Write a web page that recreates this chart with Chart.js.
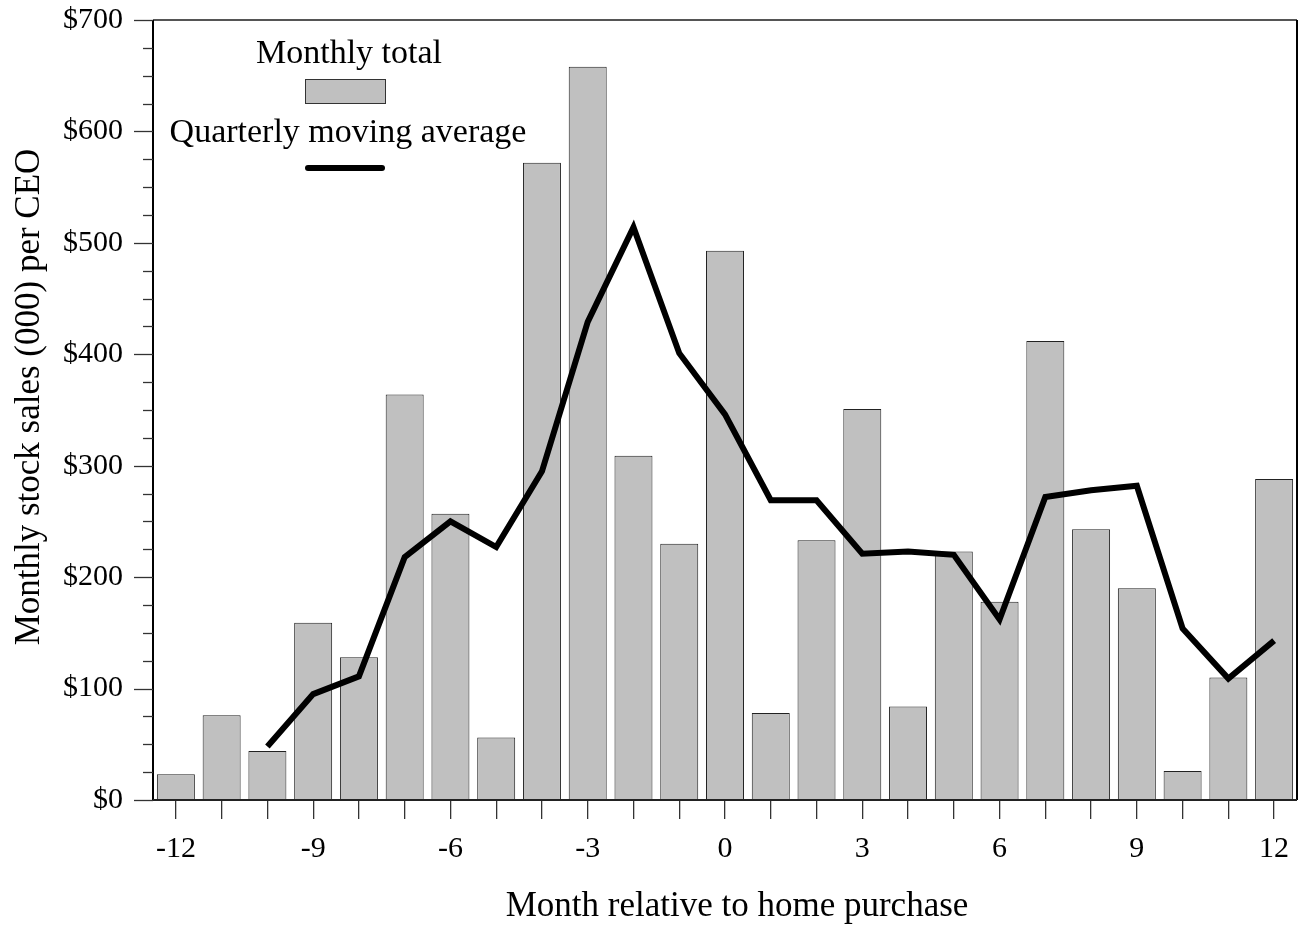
<!DOCTYPE html>
<html>
<head>
<meta charset="utf-8">
<script src="https://cdn.jsdelivr.net/npm/chart.js@4/dist/chart.umd.min.js"></script>
<style>
html,body{margin:0;padding:0;background:#fff;}
#wrap{width:1299px;height:925px;position:relative;}
</style>
</head>
<body>
<div id="wrap"><canvas id="c" width="1299" height="925"></canvas></div>
<script>
const months = [-12,-11,-10,-9,-8,-7,-6,-5,-4,-3,-2,-1,0,1,2,3,4,5,6,7,8,9,10,11,12];
const monthlyTotal = [23,76,44,159,128,364,257,56,572,658,309,230,493,78,233,351,84,223,178,412,243,190,26,110,288];
const movingAverage = [null,null,48,95,111,218,250,227,295,429,514,401,346,269,269,221,223,220,162,272,278,282,154,109,143];
const yTickValues = [0,100,200,300,400,500,600,700];
const xTickLabels = ['-12','-9','-6','-3','0','3','6','9','12'];
const legendLabels = ['Monthly total','Quarterly moving average'];
const xTitle = 'Month relative to home purchase';
const yTitle = 'Monthly stock sales (000) per CEO';

const FONT = '"Liberation Serif", "Times New Roman", serif';

const decor = {
  id: 'decor',
  afterDatasetsDraw(chart) {
    const ctx = chart.ctx, a = chart.chartArea;
    const y = chart.scales.y;
    ctx.save();
    // frame
    ctx.lineWidth = 2;
    ctx.strokeStyle = '#555';
    ctx.beginPath(); ctx.moveTo(a.left, a.top); ctx.lineTo(a.right, a.top); ctx.stroke();
    ctx.strokeStyle = '#000';
    ctx.beginPath(); ctx.moveTo(a.right, a.top); ctx.lineTo(a.right, a.bottom); ctx.stroke();
    ctx.beginPath(); ctx.moveTo(a.left, a.top); ctx.lineTo(a.left, a.bottom+1); ctx.stroke();
    ctx.strokeStyle = '#222';
    ctx.beginPath(); ctx.moveTo(a.left, a.bottom); ctx.lineTo(a.right, a.bottom); ctx.stroke();
    // y ticks (major + minor)
    ctx.lineWidth = 1.3;
    ctx.strokeStyle = '#333';
    for (let v = 0; v <= 700; v += 25) {
      const py = Math.round(y.getPixelForValue(v)) + 0.5;
      const len = (v % 100 === 0) ? 19 : 10;
      ctx.beginPath(); ctx.moveTo(a.left - len, py); ctx.lineTo(a.left, py); ctx.stroke();
    }
    // legend
    ctx.fillStyle = '#000';
    ctx.font = '34px ' + FONT;
    ctx.textAlign = 'center';
    ctx.textBaseline = 'alphabetic';
    ctx.fillText(legendLabels[0], 349, 63);
    ctx.fillText(legendLabels[1], 348, 142);
    ctx.fillStyle = '#c0c0c0';
    ctx.fillRect(305, 79, 80, 24);
    ctx.strokeStyle = '#333'; ctx.lineWidth = 1;
    ctx.strokeRect(305.5, 79.5, 80, 24);
    ctx.strokeStyle = '#000'; ctx.lineWidth = 6; ctx.lineCap = 'round';
    ctx.beginPath(); ctx.moveTo(308, 168); ctx.lineTo(382, 168); ctx.stroke();
    // axis titles
    ctx.fillStyle = '#000';
    ctx.font = '35px ' + FONT;
    ctx.textAlign = 'center'; ctx.textBaseline = 'middle';
    ctx.fillText(xTitle, 737, 907);
    ctx.translate(30, 397);
    ctx.rotate(-Math.PI/2);
    ctx.fillText(yTitle, 0, 0);
    ctx.restore();
  }
};

new Chart(document.getElementById('c'), {
  type: 'bar',
  data: {
    labels: months.map(String),
    datasets: [
      {
        type: 'line',
        label: legendLabels[1],
        data: movingAverage,
        borderColor: '#000',
        borderWidth: 6,
        pointRadius: 0,
        tension: 0,
        fill: false,
        borderJoinStyle: 'miter',
        borderCapStyle: 'butt',
        spanGaps: false,
        order: 0
      },
      {
        type: 'bar',
        label: legendLabels[0],
        data: monthlyTotal,
        backgroundColor: '#c0c0c0',
        borderColor: '#222',
        borderWidth: 1,
        categoryPercentage: 1,
        barPercentage: 0.83,
        order: 1
      }
    ]
  },
  options: {
    responsive: false,
    animation: false,
    devicePixelRatio: 1,
    layout: { padding: { top: 20, right: 2, left: 0, bottom: 0 } },
    plugins: { legend: { display: false }, tooltip: { enabled: false } },
    scales: {
      x: {
        type: 'category',
        offset: true,
        grid: { display: true, drawOnChartArea: false, drawTicks: true, tickLength: 19, offset: false, color: '#333', lineWidth: 1.3 },
        border: { display: false },
        ticks: {
          autoSkip: false, maxRotation: 0, minRotation: 0, padding: 12,
          color: '#000', font: { family: FONT, size: 30 },
          callback: function(val, idx) {
            const l = String(months[idx]);
            return xTickLabels.includes(l) ? l : '';
          }
        },
        afterFit(scale) { scale.height = 125; scale.paddingLeft = 0; scale.paddingRight = 0; }
      },
      y: {
        min: 0, max: 700,
        afterBuildTicks(scale) { scale.ticks = yTickValues.map(v => ({ value: v })); },
        grid: { display: true, drawOnChartArea: false, drawTicks: true, tickLength: 19, color: 'rgba(0,0,0,0)' },
        border: { display: false },
        ticks: {
          padding: 11, color: '#000', font: { family: FONT, size: 30 },
          callback: v => '$' + v
        },
        afterFit(scale) { scale.width = 153; scale.paddingTop = 0; scale.paddingBottom = 0; }
      }
    }
  },
  plugins: [decor]
});
</script>
</body>
</html>
